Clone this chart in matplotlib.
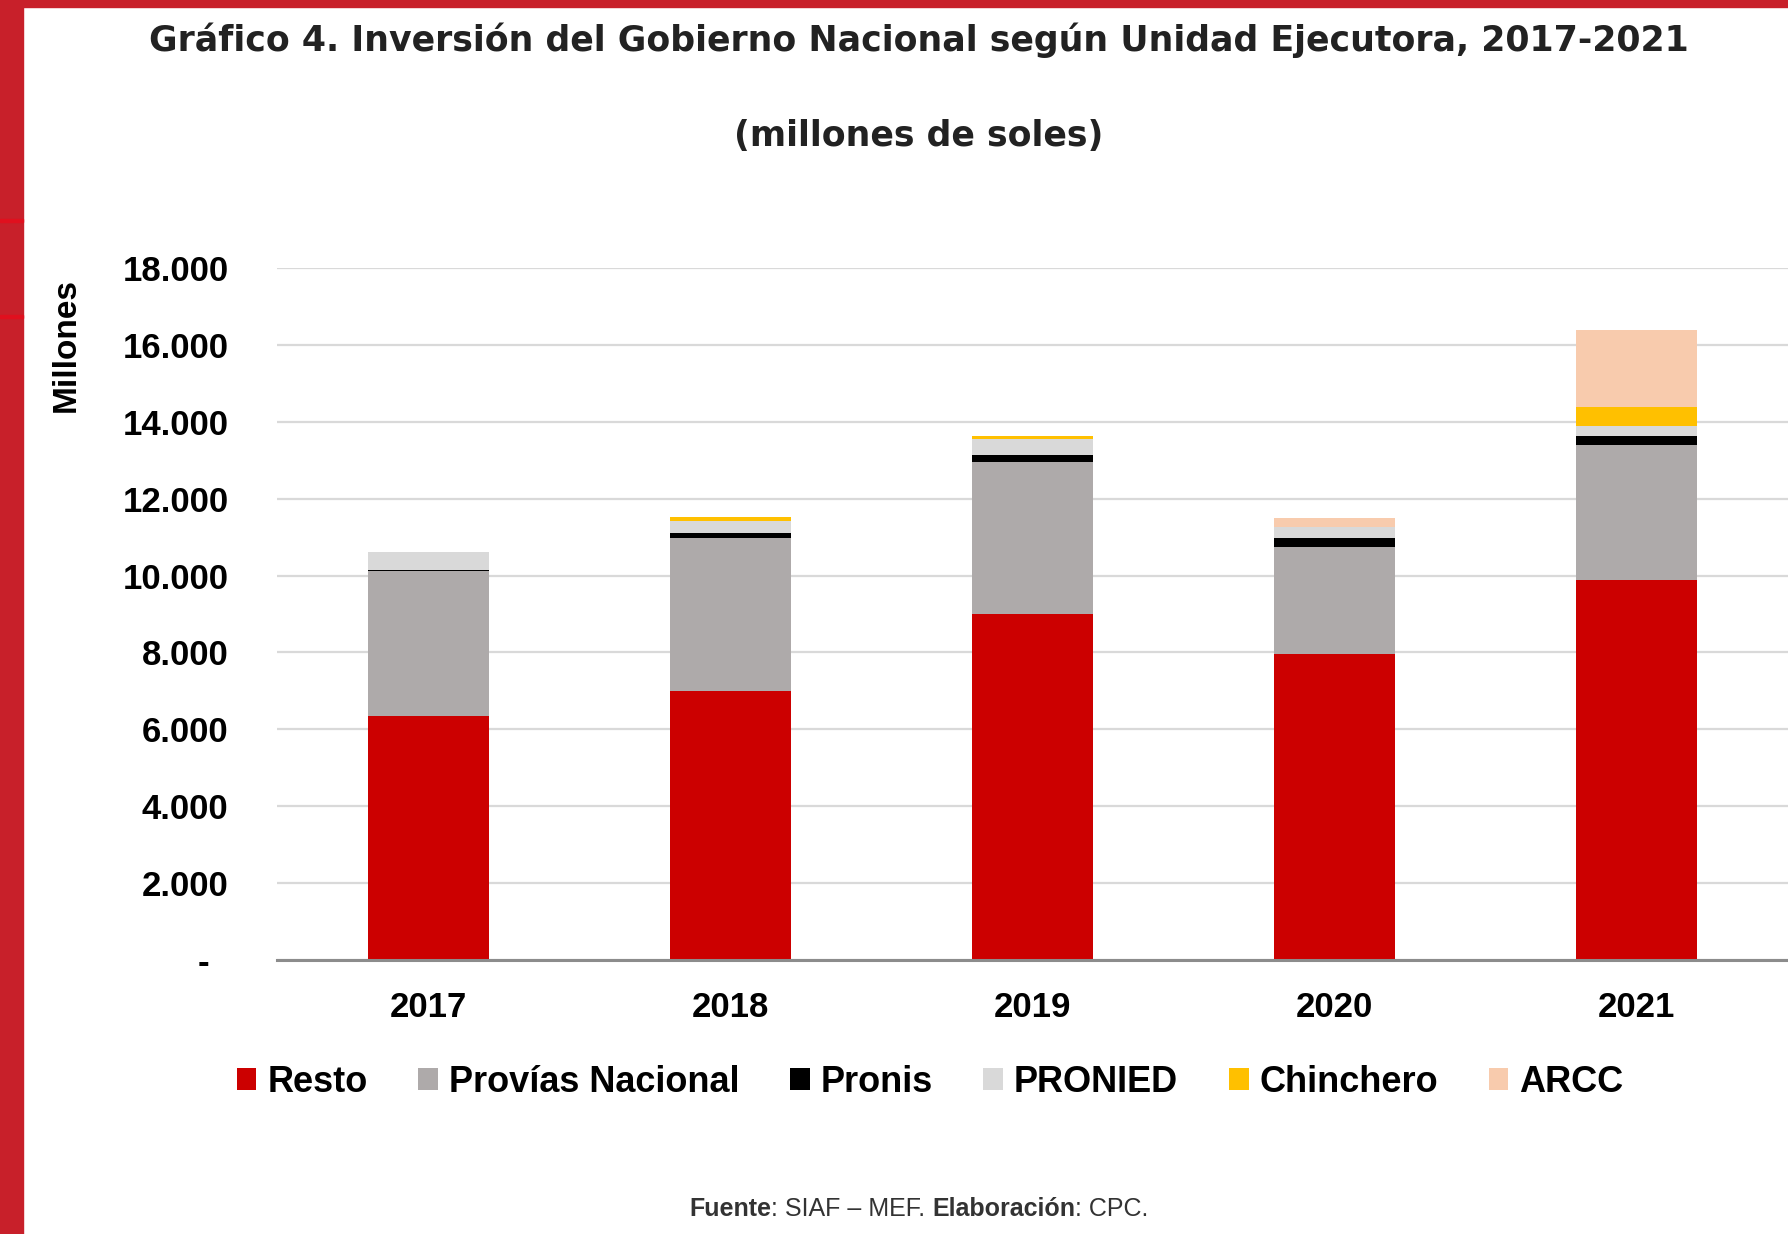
import matplotlib
matplotlib.use("Agg")
import matplotlib.pyplot as plt
from matplotlib.patches import Rectangle
from matplotlib.offsetbox import TextArea, HPacker, AnchoredOffsetbox

# datos (millones de soles)
years = ["2017", "2018", "2019", "2020", "2021"]
resto = [6340, 6990, 9000, 7960, 9890]
provias = [3780, 3990, 3960, 2790, 3505]
pronis = [25, 130, 175, 220, 240]
pronied = [455, 320, 415, 300, 260]
chinchero = [20, 100, 85, 0, 495]
arcc = [0, 0, 0, 225, 1990]

series = [
    ("Resto", resto, "#CC0000"),
    ("Provías Nacional", provias, "#AEAAAA"),
    ("Pronis", pronis, "#000000"),
    ("PRONIED", pronied, "#D9D9D9"),
    ("Chinchero", chinchero, "#FFC000"),
    ("ARCC", arcc, "#F8CBAD"),
]
yticks = [0, 2000, 4000, 6000, 8000, 10000, 12000, 14000, 16000, 18000]
ytick_labels = ["-  ", "2.000", "4.000", "6.000", "8.000", "10.000",
                "12.000", "14.000", "16.000", "18.000"]

arial = ["Liberation Sans", "DejaVu Sans"]

fig = plt.figure(figsize=(17.88, 12.34), dpi=100)
fig.patch.set_facecolor("white")

# marco rojo
red = "#C8202A"
fig.patches.append(Rectangle((0, 0), 23 / 1788, 1, transform=fig.transFigure,
                             color=red, zorder=0))
fig.patches.append(Rectangle((0, 1 - 7 / 1234), 1, 7 / 1234, transform=fig.transFigure,
                             color=red, zorder=0))
for yy in [222, 318]:
    fig.patches.append(Rectangle((0, 1 - yy / 1234), 23 / 1788, 3 / 1234,
                                 transform=fig.transFigure, color="#E0101E", zorder=1))

ax = fig.add_axes([277 / 1788, 1 - 960 / 1234, 1511 / 1788, 692 / 1234])

x = list(range(len(years)))
bottom = [0] * len(years)
for name, vals, col in series:
    ax.bar(x, vals, width=0.4, bottom=bottom, color=col, label=name, zorder=3)
    bottom = [b + v for b, v in zip(bottom, vals)]

ax.set_xlim(-0.5, 4.5)
ax.set_ylim(0, 18000)
ax.set_yticks(yticks)
ax.set_yticklabels(ytick_labels, family=arial, fontweight="bold", fontsize=25)
ax.set_xticks(x)
ax.set_xticklabels(years, family=arial, fontweight="bold", fontsize=25)
ax.tick_params(axis="y", length=0, pad=35)
ax.tick_params(axis="x", length=0, pad=22)
ax.grid(axis="y", color="#D9D9D9", linewidth=1.6, zorder=0)
for s in ["top", "right", "left"]:
    ax.spines[s].set_visible(False)
ax.spines["bottom"].set_color("#8C8C8C")
ax.spines["bottom"].set_linewidth(2.2)
ax.spines["bottom"].set_zorder(4)

fig.text(66 / 1788, 1 - 345 / 1234, "Millones", rotation=90, ha="center", va="center",
         family=arial, fontweight="bold", fontsize=24)

fig.text(919 / 1788, 1 - 40 / 1234,
         "Gráfico 4. Inversión del Gobierno Nacional según Unidad Ejecutora, 2017-2021",
         ha="center", va="center", family="DejaVu Sans", fontweight="bold",
         fontsize=25, color="#222222")
fig.text(919 / 1788, 1 - 136 / 1234, "(millones de soles)", ha="center", va="center",
         family="DejaVu Sans", fontweight="bold", fontsize=25, color="#222222")

fig.legend(loc="center", bbox_to_anchor=(930 / 1788, 1 - 1082 / 1234), ncol=6,
           frameon=False, handlelength=0.55, handleheight=0.55, handletextpad=0.3,
           columnspacing=1.4, prop={"family": arial, "weight": "bold", "size": 26})

# fuente
parts = [("Fuente", "bold"), (": SIAF – MEF. ", "normal"),
         ("Elaboración", "bold"), (": CPC.", "normal")]
boxes = [TextArea(t, textprops=dict(family=arial, fontweight=w, fontsize=18,
                                     color="#333333")) for t, w in parts]
pack = HPacker(children=boxes, pad=0, sep=0, align="baseline")
ab = AnchoredOffsetbox(loc="center", child=pack, frameon=False,
                       bbox_to_anchor=(919 / 1788, 1 - 1209 / 1234),
                       bbox_transform=fig.transFigure, pad=0, borderpad=0)
fig.add_artist(ab)

fig.savefig("out.png", dpi=100)
